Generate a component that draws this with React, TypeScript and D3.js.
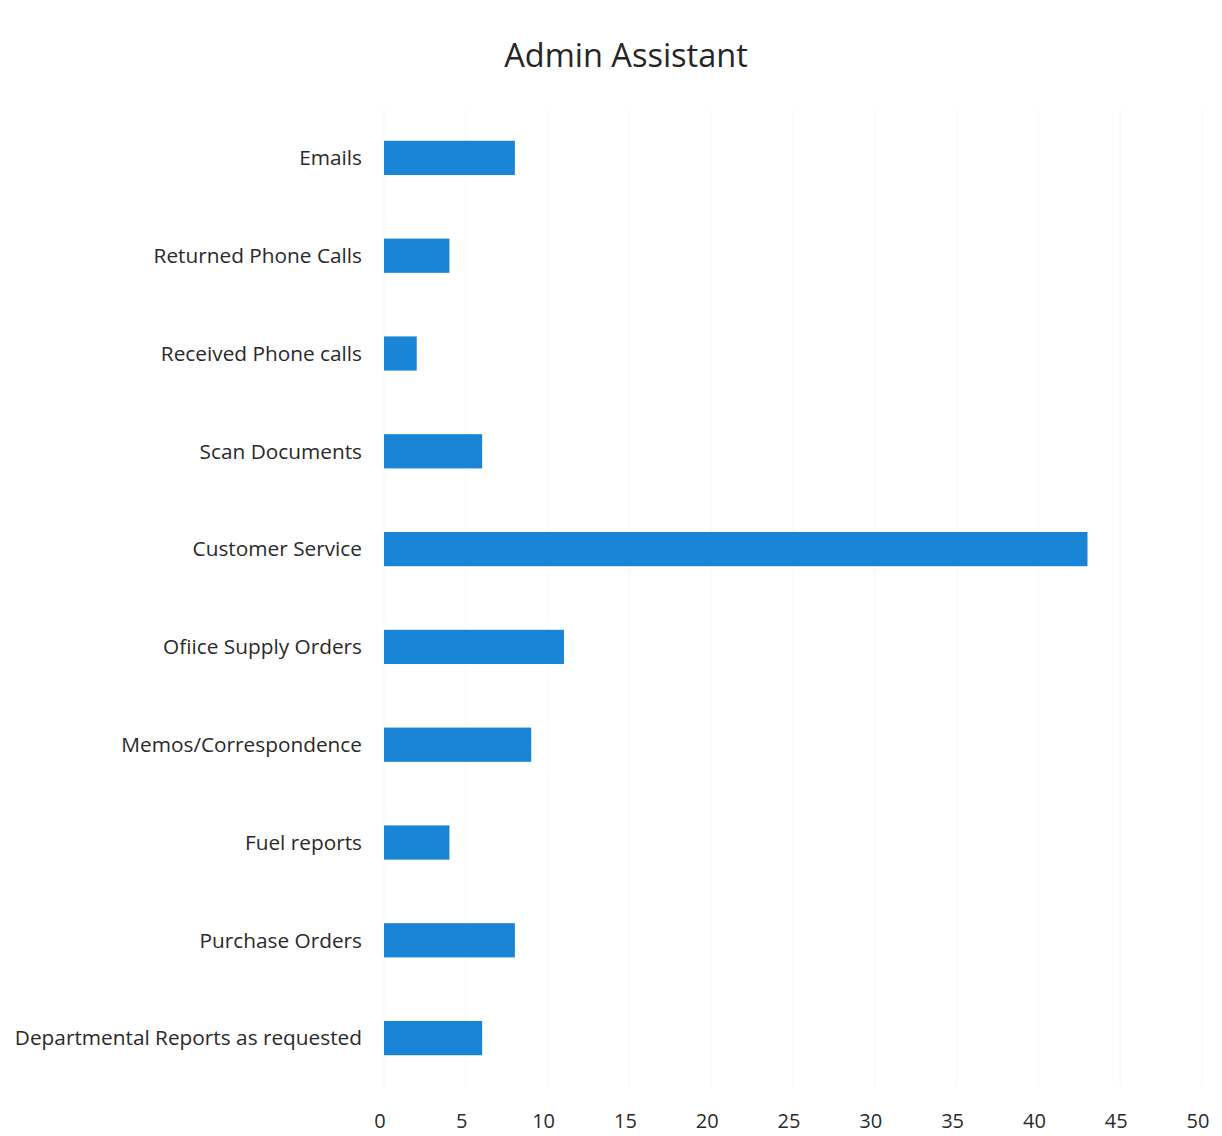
import React from "react";
import * as d3 from "d3";

const title = "Admin Assistant";
const categories = [
  "Emails",
  "Returned Phone Calls",
  "Received Phone calls",
  "Scan Documents",
  "Customer Service",
  "Ofiice Supply Orders",
  "Memos/Correspondence",
  "Fuel reports",
  "Purchase Orders",
  "Departmental Reports as requested",
];
const values = [8, 4, 2, 6, 43, 11, 9, 4, 8, 6];
const ticks = [0, 5, 10, 15, 20, 25, 30, 35, 40, 45, 50];

const W = 1222;
const H = 1136;
const FONT = "'Open Sans', 'Noto Sans', sans-serif";

export default function App() {
  const x = d3.scaleLinear().domain([0, 50]).range([384, 1202]);
  const y = d3
    .scaleBand<string>()
    .domain(categories)
    .range([109, 1087])
    .paddingInner(0.65)
    .paddingOuter(0.325);

  return (
    <svg
      width={W}
      height={H}
      style={{ position: "absolute", left: 0, top: 0, background: "#fff" }}
    >
      <rect x={0} y={0} width={W} height={H} fill="#fff" />
      <text
        x={626}
        y={67}
        textAnchor="middle"
        fontFamily={FONT}
        fontSize={32.5}
        fill="#262626"
      >
        {title}
      </text>
      {ticks.map((t) => (
        <line
          key={"g" + t}
          x1={x(t)}
          x2={x(t)}
          y1={109}
          y2={1087}
          stroke="#fafafa"
          strokeWidth={1.5}
        />
      ))}
      {categories.map((c, i) => (
        <g key={c}>
          <rect
            x={x(0)}
            y={y(c)!}
            width={x(values[i]) - x(0)}
            height={y.bandwidth()}
            fill="#1a84d6"
          />
          <text
            x={362}
            y={y(c)! + y.bandwidth() / 2}
            dy="0.35em"
            textAnchor="end"
            fontFamily={FONT}
            fontSize={20.8}
            fill="#2a2a2a"
          >
            {c}
          </text>
        </g>
      ))}
      {ticks.map((t) => (
        <text
          key={"t" + t}
          x={x(t) - 4}
          y={1128}
          textAnchor="middle"
          fontFamily={FONT}
          fontSize={20}
          fill="#2a2a2a"
        >
          {t}
        </text>
      ))}
    </svg>
  );
}
